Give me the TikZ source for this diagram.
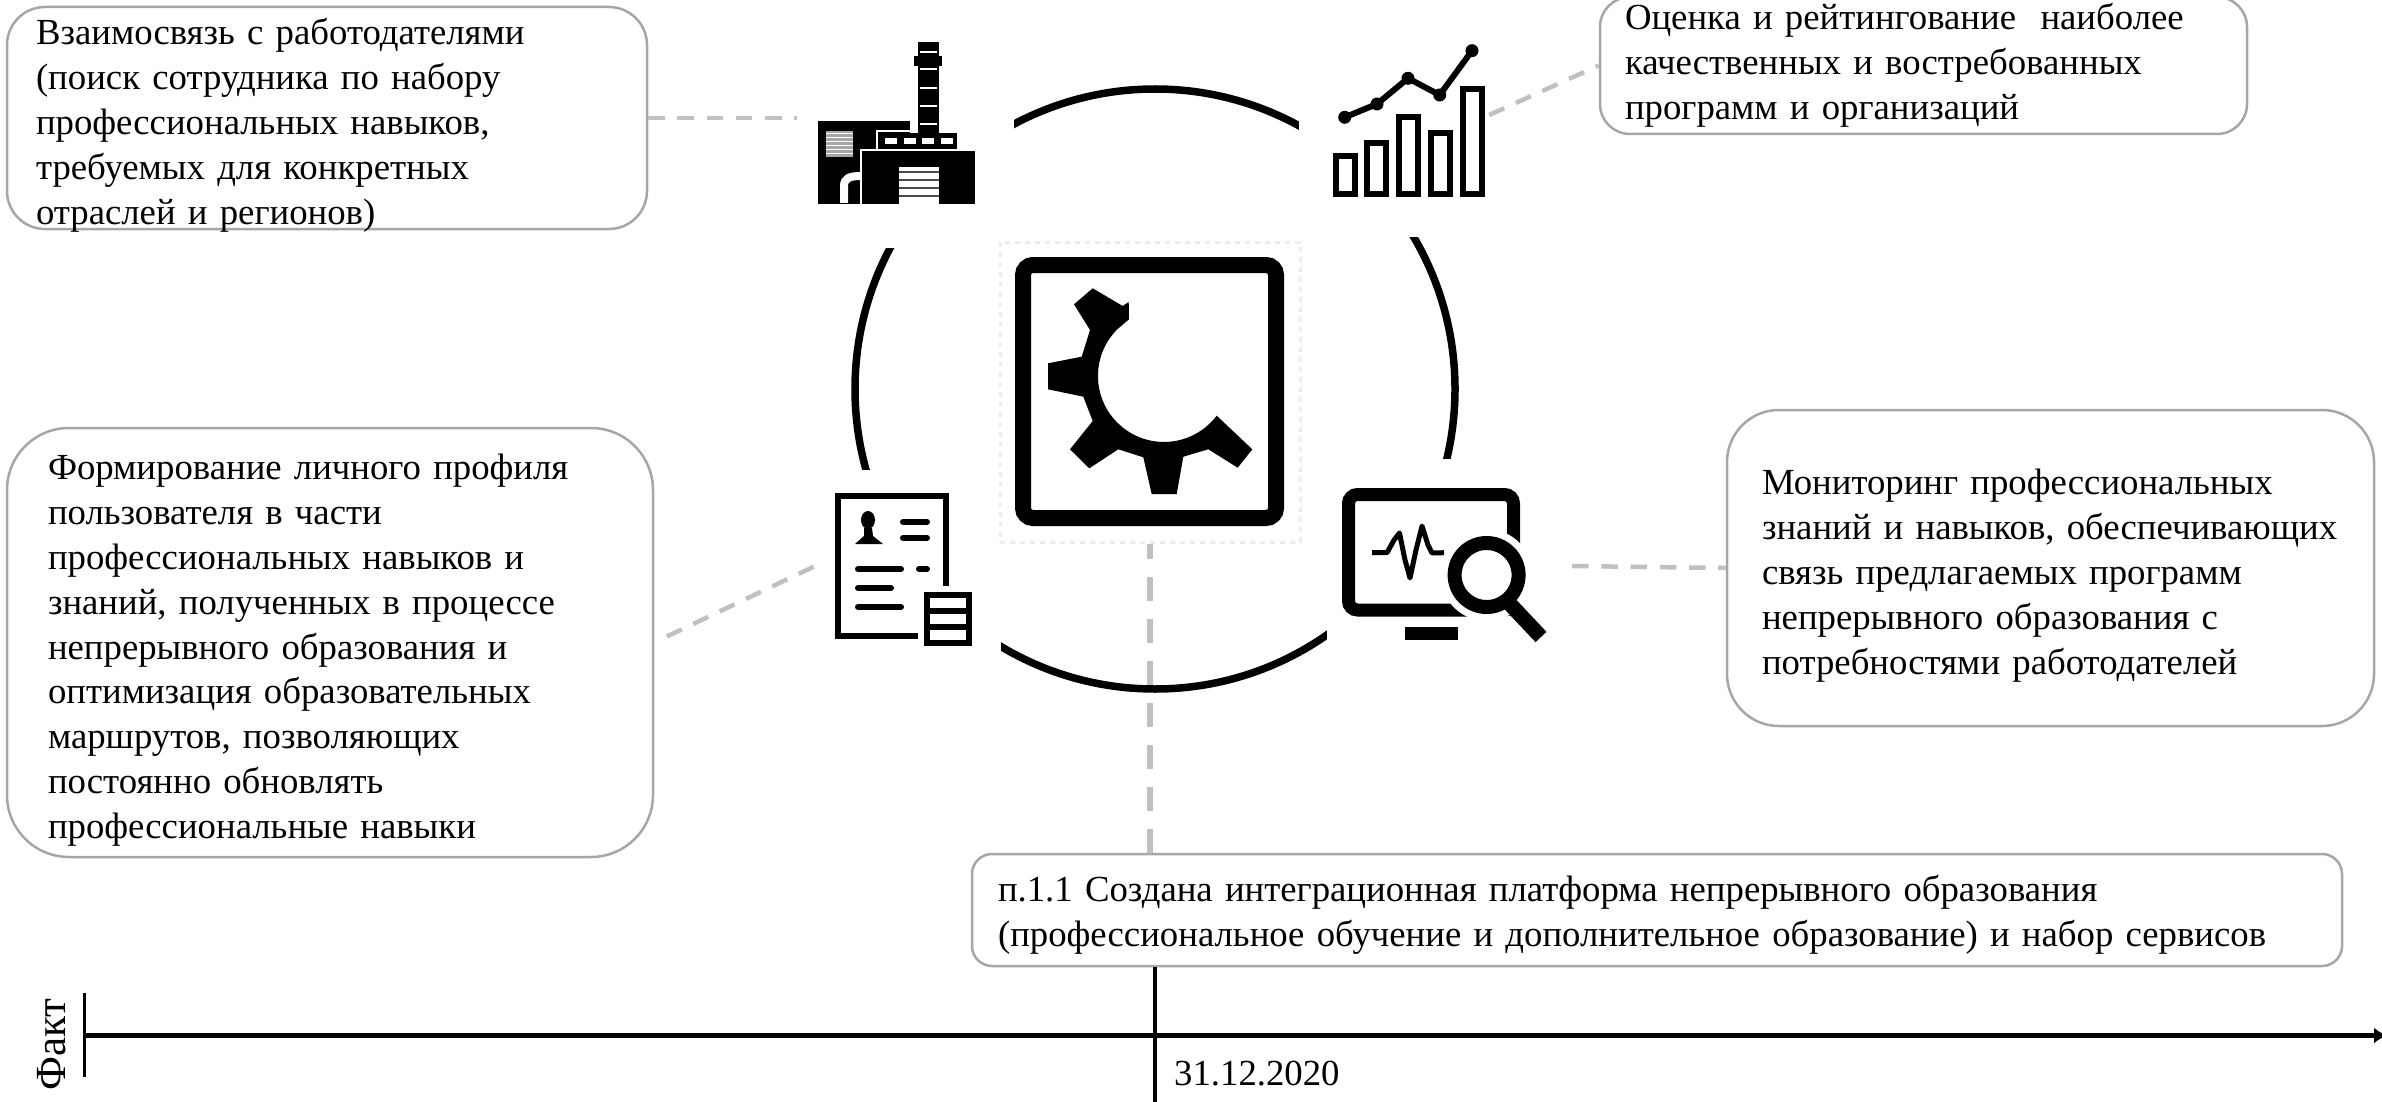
\documentclass[tikz,border=0pt]{standalone}
\usepackage{fontspec}
\setmainfont{Liberation Serif}
\usetikzlibrary{calc, positioning, arrows.meta}

\begin{document}
\begin{tikzpicture}
		[x=1pt, y=-1pt,
		bx/.style = {draw=boxgray, line width=2.5pt, rectangle, align=left, inner ysep=0pt, font=\fontsize{36.75}{44.8}\selectfont},
		dn/.style = {execute at begin node={\rule{0pt}{#1}}},
		mask/.style = {fill=white, rectangle, inner sep=0pt},
		lnk/.style = {draw=lnkgray, line width=4.5pt, dash pattern=on 16.5pt off 12.7pt},
		lnkv/.style = {draw=lnkgray, line width=6pt, dash pattern=on 24pt off 18pt, dash phase=9pt},
		ico/.style = {line width=6pt, draw=black},
		txt/.style = {inner sep=0pt, font=\fontsize{36.75}{44.8}\selectfont}]
		\definecolor{boxgray}{HTML}{A6A6A6}
		\definecolor{lnkgray}{HTML}{C0C0C0}
		\clip (0,0) rectangle (2382,1102);
		\useasboundingbox (0,0) rectangle (2382,1102);

		% ring behind the icons
		\draw[line width=7.5pt] (1155,389) circle (300);

		\node[mask, minimum width=217pt, minimum height=260pt] (factory) at (905.5,118) {};
		\node[mask, minimum width=190pt, minimum height=244pt] (chart) at (1394,115) {};
		\node[mask, minimum width=183pt, minimum height=190pt] (profile) at (909,565) {};
		\node[mask, minimum width=245pt, minimum height=214pt] (monitor) at (1449.5,566) {};
		\node[draw=black!7, line width=3pt, dash pattern=on 5pt off 5pt, minimum size=300pt, inner sep=0pt] (gear) at (1150,392) {};

		% text boxes
		\node[bx, dn=41pt, inner ysep=-10pt, rounded corners=38pt, minimum width=640pt, minimum height=222pt, inner xsep=29pt, text width=582pt] (employers) at (327,118)
			{Взаимосвязь с работодателями\\(поиск сотрудника по набору\\профессиональных навыков,\\требуемых для конкретных\\отраслей и регионов)};
		\node[bx, rounded corners=30pt, minimum width=647pt, minimum height=137pt, inner xsep=25pt, text width=597pt] (rating) at (1923.5,65.5)
			{Оценка и рейтингование\ \ наиболее\\качественных и востребованных\\программ и организаций};
		\node[bx, dn=41pt, rounded corners=62pt, minimum width=646pt, minimum height=429pt, inner xsep=41pt, text width=564pt] (personal) at (330,642.5)
			{Формирование личного профиля\\пользователя в части\\профессиональных навыков и\\знаний, полученных в процессе\\непрерывного образования и\\оптимизация образовательных\\маршрутов, позволяющих\\постоянно обновлять\\профессиональные навыки};
		\node[bx, dn=41pt, rounded corners=52pt, minimum width=647pt, minimum height=316pt, inner xsep=35pt, text width=577pt] (monit) at (2050.5,568)
			{Мониторинг профессиональных\\\mbox{знаний и навыков, обеспечивающих}\\связь предлагаемых программ\\непрерывного образования с\\потребностями работодателей};
		\node[bx, dn=36pt, rounded corners=20pt, minimum width=1370pt, minimum height=112pt, inner xsep=26pt, text width=1318pt] (result) at (1657,910)
			{п.1.1 Создана интеграционная платформа непрерывного образования\\(профессиональное обучение и дополнительное образование) и набор сервисов};

		% dashed links
		\draw[lnk] (employers.east) -- (employers.east -| factory.west);
		\draw[lnk] (chart.east) -- (rating.west);
		\draw[lnk, shorten <=14pt, shorten >=4pt] (personal.east) -- (profile.west);
		\draw[lnk] (monitor.east) -- (monit.west);
		\draw[lnkv] (gear.south) -- (gear.south |- result.north);

		% gear
		\draw[line width=16pt, rounded corners=10pt] (1023,265) rectangle (1276,518);
		\fill (1092.7,288.3) -- (1122.7,306) -- (1128.7,302) -- (1129,319.3) -- (1117.3,329.3)
			arc[start angle=225, end angle=37, radius=66] -- (1252.3,449.3) -- (1237.7,467.7) -- (1208.3,449.3) -- (1183.3,456.7)
			-- (1176.7,494) -- (1151.7,494) -- (1143.3,457.3) -- (1118.3,449.3) -- (1089.3,468.3) -- (1070,449.3)
			-- (1092.7,421) -- (1083.3,396.7) -- (1048,389.3) -- (1048,363.3) -- (1081.7,356.7) -- (1090,330) -- (1074,304.3) -- cycle;

		% factory
		\fill (818,121) rectangle (910,204);
		\fill (918,42) rectangle (938.5,133);
		\fill (914,56) rectangle (942,66);
		\fill (879,133) rectangle (957,149);
		\draw[white, line width=2pt] (877,151) -- (877,131) -- (918,131);
		\draw[white, line width=2pt] (861,204) -- (861,150) -- (977,150);
		\fill (863,151) rectangle (975,204);
		\foreach \x in {885, 903.5, 922, 941}{
			\fill[white] (\x,138) rectangle +(12,6);
		}
		\foreach \y in {51, 68, 87, 105, 123}{
			\fill[white] (920,\y) rectangle (937,\y+2.5);
		}
		\fill[black!35] (826,131) rectangle (853,157);
		\foreach \y in {134, 138, 142, 146, 150, 154}{
			\draw[white, line width=1pt] (826,\y) -- (853,\y);
		}
		\fill[white] (899,167) rectangle (938.5,204);
		\foreach \y in {172, 180, 188, 196}{
			\draw[black!70, line width=1.5pt] (899,\y) -- (938.5,\y);
		}
		\draw[white, line width=8pt] (844,203) -- (844,186) .. controls (844,178) and (850,176) .. (861,176);

		% chart
		\foreach \xa/\ya in {1336/156, 1367/143, 1399/117, 1431/133, 1463/89}{
			\draw[ico] (\xa,\ya) rectangle (\xa+19,194);
		}
		\draw[ico] (1344.7,117.3) -- (1377,104) -- (1408,78.3) -- (1439.7,95) -- (1472,50.7);
		\foreach \xa/\ya in {1344.7/117.3, 1377/104, 1408/78.3, 1439.7/95, 1472/50.7}{
			\fill (\xa,\ya) circle (6.5);
		}

		% profile
		\draw[ico] (918,636) -- (838,636) -- (838,496) -- (946,496) -- (946,586);
		\fill (868,520) ellipse (7 and 9);
		\fill (864,528) -- (872,528) -- (873,536) -- (883,544) -- (855,544) -- (864,536) -- cycle;
		\foreach \xa/\xb/\y in {900/930/522, 900/930/538, 855/904/569, 916/930/569, 855/894/588, 855/904/607}{
			\draw[line width=6pt, line cap=round] (\xa+3,\y) -- (\xb-3,\y);
		}
		\draw[ico] (927,595) rectangle (969,643);
		\draw[ico] (927,611) -- (969,611);
		\draw[ico] (927,627) -- (969,627);

		% monitor
		\draw[line width=13pt, rounded corners=9pt] (1348.5,494.5) rectangle (1513.5,610);
		\fill (1404.5,627) rectangle (1458,640);
		\draw[line width=5pt, line join=round] (1372,552.7) -- (1387,552.7) -- (1394,540) -- (1399.5,533) -- (1405,560) -- (1410,578) -- (1416,550) -- (1422,526) -- (1428,545) -- (1432,553) -- (1444,552.7);
		\fill[white] (1486.6,575) circle (46);
		\draw[line width=14pt] (1486.6,575) circle (32);
		\draw[line width=15pt] (1509,603) -- (1541,637);

		% time axis
		\draw[line width=3pt] (84,993) -- (84,1077);
		\coordinate (axisend) at (2387,1035.5);
		\draw[line width=4.5pt, -{Latex[length=13pt,width=16pt]}] (84,1035.5) -- (axisend);
		\draw[line width=3.5pt] (result.south -| 1155,0) -- (1155,1102);
		\node[txt, anchor=west] (date) at (1174,1074) {31.12.2020};
		\node[txt, rotate=90, font=\fontsize{43}{50}\selectfont] (fact) at (52,1044.5) {Факт};
	\end{tikzpicture}
\end{document}
